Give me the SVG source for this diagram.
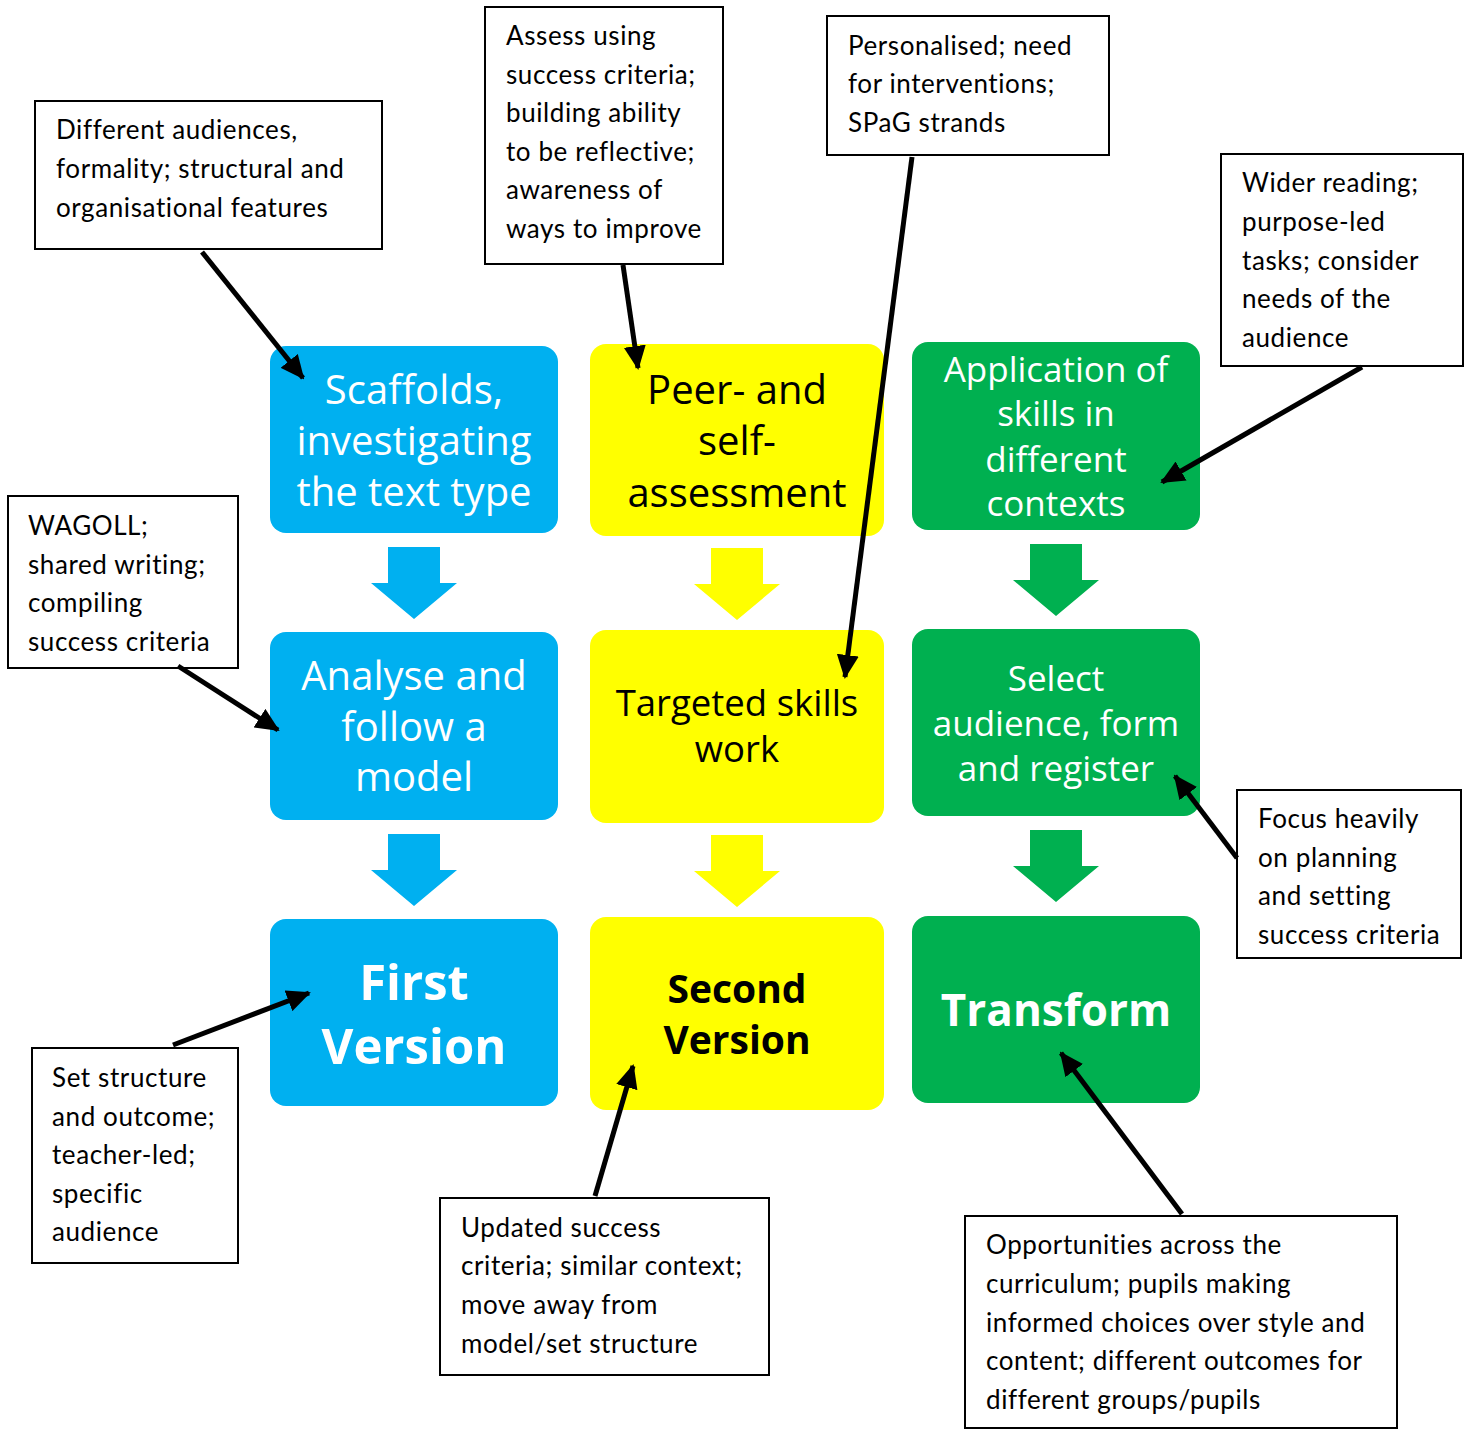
<svg xmlns="http://www.w3.org/2000/svg" width="1472" height="1430" viewBox="0 0 1472 1430">
<style>
.blue{fill:#00B0F0}
.yel{fill:#FFFF00}
.grn{fill:#00B050}
.nt{font-family:"Open Sans","Noto Sans",sans-serif;font-size:40px;text-anchor:middle}
.w{fill:#FFFFFF}
.k{fill:#000000}
.b{font-weight:bold}
.cb{fill:#FFFFFF;stroke:#000;stroke-width:2}
.ct{font-family:Lato,"Liberation Sans",sans-serif;font-size:26px;letter-spacing:0.6px;fill:#000}
.con{stroke:#000;stroke-width:5;fill:none;marker-end:url(#ah)}
</style>
<defs>
<marker id="ah" markerUnits="userSpaceOnUse" markerWidth="24" markerHeight="22" refX="22" refY="11" orient="auto" viewBox="0 0 24 22">
<path d="M0,0 L24,11 L0,22 Z" fill="#000"/>
</marker>
</defs>
<rect width="1472" height="1430" fill="#FFFFFF"/>

<g id="block-arrows">
<path class="blue" d="M388,547 H440 V583 H457 L414,619 L371,583 H388 Z"/>
<path class="blue" d="M388,834 H440 V870 H457 L414,906 L371,870 H388 Z"/>
<path class="yel" d="M711,548 H763 V584 H780 L737,620 L694,584 H711 Z"/>
<path class="yel" d="M711,835 H763 V871 H780 L737,907 L694,871 H711 Z"/>
<path class="grn" d="M1030,544 H1082 V580 H1099 L1056,616 L1013,580 H1030 Z"/>
<path class="grn" d="M1030,830 H1082 V866 H1099 L1056,902 L1013,866 H1030 Z"/>
</g>

<g id="node-scaffolds">
<rect class="blue" x="270" y="346" width="288" height="187" rx="16"/>
<text class="nt w" x="414" y="404">Scaffolds,</text>
<text class="nt w" x="414" y="455">investigating</text>
<text class="nt w" x="414" y="506">the text type</text>
</g>
<g id="node-analyse">
<rect class="blue" x="270" y="632" width="288" height="188" rx="16"/>
<text class="nt w" x="414" y="690">Analyse and</text>
<text class="nt w" x="414" y="741">follow a</text>
<text class="nt w" x="414" y="791">model</text>
</g>
<g id="node-first">
<rect class="blue" x="270" y="919" width="288" height="187" rx="16"/>
<text class="nt w b" x="414" y="1000" style="font-size:49px">First</text>
<text class="nt w b" x="414" y="1064" style="font-size:49px">Version</text>
</g>

<g id="node-peer">
<rect class="yel" x="590" y="344" width="294" height="192" rx="16"/>
<text class="nt k" x="737" y="404">Peer- and</text>
<text class="nt k" x="737" y="455">self-</text>
<text class="nt k" x="737" y="507">assessment</text>
</g>
<g id="node-targeted">
<rect class="yel" x="590" y="630" width="294" height="193" rx="16"/>
<text class="nt k" x="737" y="716" style="font-size:36.5px">Targeted skills</text>
<text class="nt k" x="737" y="762" style="font-size:36.5px">work</text>
</g>
<g id="node-second">
<rect class="yel" x="590" y="917" width="294" height="193" rx="16"/>
<text class="nt k b" x="737" y="1003" style="font-size:39px">Second</text>
<text class="nt k b" x="737" y="1054" style="font-size:39px">Version</text>
</g>

<g id="node-application">
<rect class="grn" x="912" y="342" width="288" height="188" rx="16"/>
<text class="nt w" x="1056" y="382" style="font-size:35px">Application of</text>
<text class="nt w" x="1056" y="426" style="font-size:35px">skills in</text>
<text class="nt w" x="1056" y="472" style="font-size:35px">different</text>
<text class="nt w" x="1056" y="516" style="font-size:35px">contexts</text>
</g>
<g id="node-select">
<rect class="grn" x="912" y="629" width="288" height="187" rx="16"/>
<text class="nt w" x="1056" y="691" style="font-size:35px">Select</text>
<text class="nt w" x="1056" y="736" style="font-size:35px">audience, form</text>
<text class="nt w" x="1056" y="781" style="font-size:35px">and register</text>
</g>
<g id="node-transform">
<rect class="grn" x="912" y="916" width="288" height="187" rx="16"/>
<text class="nt w b" x="1056" y="1026" style="font-size:44px">Transform</text>
</g>

<g id="callout-different">
<rect class="cb" x="35" y="101" width="347" height="148"/>
<text class="ct" x="56" y="139">Different audiences,</text>
<text class="ct" x="56" y="178">formality; structural and</text>
<text class="ct" x="56" y="217">organisational features</text>
</g>
<g id="callout-assess">
<rect class="cb" x="485" y="7" width="238" height="257"/>
<text class="ct" x="506" y="45">Assess using</text>
<text class="ct" x="506" y="84">success criteria;</text>
<text class="ct" x="506" y="122">building ability</text>
<text class="ct" x="506" y="161">to be reflective;</text>
<text class="ct" x="506" y="199">awareness of</text>
<text class="ct" x="506" y="238">ways to improve</text>
</g>
<g id="callout-personalised">
<rect class="cb" x="827" y="16" width="282" height="139"/>
<text class="ct" x="848" y="55">Personalised; need</text>
<text class="ct" x="848" y="93">for interventions;</text>
<text class="ct" x="848" y="132">SPaG strands</text>
</g>
<g id="callout-wider">
<rect class="cb" x="1221" y="154" width="242" height="212"/>
<text class="ct" x="1242" y="192">Wider reading;</text>
<text class="ct" x="1242" y="231">purpose-led</text>
<text class="ct" x="1242" y="270">tasks; consider</text>
<text class="ct" x="1242" y="308">needs of the</text>
<text class="ct" x="1242" y="347">audience</text>
</g>
<g id="callout-wagoll">
<rect class="cb" x="8" y="496" width="230" height="172"/>
<text class="ct" x="28" y="535">WAGOLL;</text>
<text class="ct" x="28" y="574">shared writing;</text>
<text class="ct" x="28" y="612">compiling</text>
<text class="ct" x="28" y="651">success criteria</text>
</g>
<g id="callout-focus">
<rect class="cb" x="1237" y="790" width="224" height="168"/>
<text class="ct" x="1258" y="828">Focus heavily</text>
<text class="ct" x="1258" y="867">on planning</text>
<text class="ct" x="1258" y="905">and setting</text>
<text class="ct" x="1258" y="944">success criteria</text>
</g>
<g id="callout-set">
<rect class="cb" x="32" y="1048" width="206" height="215"/>
<text class="ct" x="52" y="1087">Set structure</text>
<text class="ct" x="52" y="1126">and outcome;</text>
<text class="ct" x="52" y="1164">teacher-led;</text>
<text class="ct" x="52" y="1203">specific</text>
<text class="ct" x="52" y="1241">audience</text>
</g>
<g id="callout-updated">
<rect class="cb" x="440" y="1198" width="329" height="177"/>
<text class="ct" x="461" y="1237">Updated success</text>
<text class="ct" x="461" y="1275">criteria; similar context;</text>
<text class="ct" x="461" y="1314">move away from</text>
<text class="ct" x="461" y="1353">model/set structure</text>
</g>
<g id="callout-opportunities">
<rect class="cb" x="965" y="1216" width="432" height="212"/>
<text class="ct" x="986" y="1254">Opportunities across the</text>
<text class="ct" x="986" y="1293">curriculum; pupils making</text>
<text class="ct" x="986" y="1332">informed choices over style and</text>
<text class="ct" x="986" y="1370">content; different outcomes for</text>
<text class="ct" x="986" y="1409">different groups/pupils</text>
</g>

<g id="connectors">
<line class="con" x1="202" y1="252" x2="303" y2="378"/>
<line class="con" x1="623" y1="265" x2="638" y2="368"/>
<line class="con" x1="912" y1="157" x2="845" y2="677"/>
<line class="con" x1="1362" y1="367" x2="1162" y2="482"/>
<line class="con" x1="178" y1="666" x2="278" y2="730"/>
<line class="con" x1="1237" y1="858" x2="1175" y2="776"/>
<line class="con" x1="173" y1="1045" x2="309" y2="993"/>
<line class="con" x1="595" y1="1196" x2="633" y2="1066"/>
<line class="con" x1="1182" y1="1214" x2="1061" y2="1053"/>
</g>
</svg>
